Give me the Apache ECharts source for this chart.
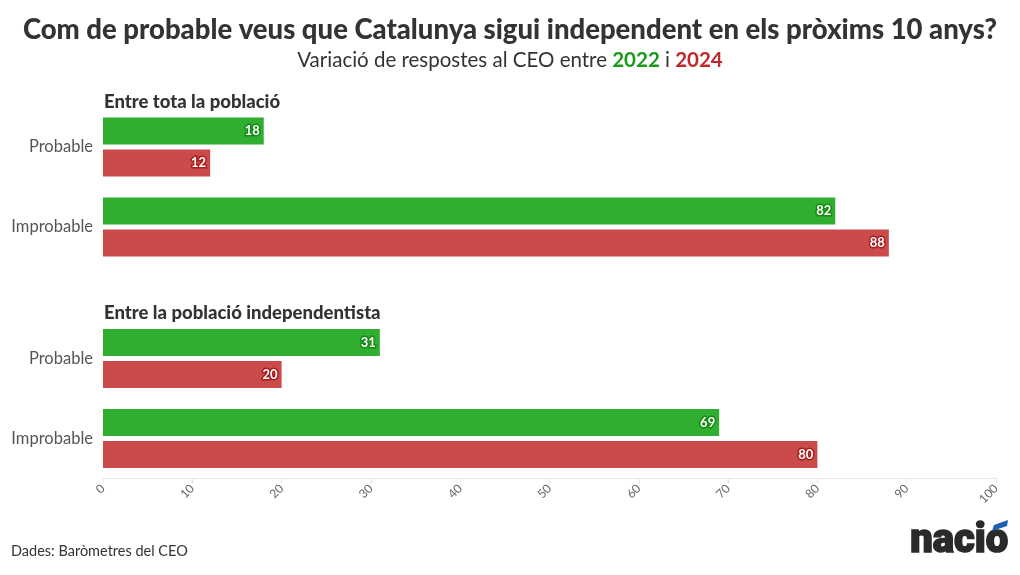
<!DOCTYPE html>
<html>
<head>
<meta charset="utf-8">
<script src="https://cdn.jsdelivr.net/npm/echarts@6/dist/echarts.min.js"></script>
<style>
  html, body { margin: 0; padding: 0; background: #fff; }
  #chart { width: 1020px; height: 575px; }
</style>
</head>
<body>
<div id="chart"></div>
<script>
// categories and values
const categories = ["Probable", "Improbable"];
const years = ["2022", "2024"];
const totalPop2022 = [18, 82];
const totalPop2024 = [12, 88];
const indepPop2022 = [31, 69];
const indepPop2024 = [20, 80];
const xTicks = [0, 10, 20, 30, 40, 50, 60, 70, 80, 90, 100];

const FONT = "Lato";
const GREEN = "#2fae2f";
const RED = "#cb4a4a";

let myChart = echarts.init(document.getElementById("chart"));

// label inside the bar end, white with dark halo
function barLabel(dark) {
  return {
    show: true,
    position: "insideRight",
    distance: 4,
    color: "#fff",
    fontFamily: FONT,
    fontWeight: "bold",
    fontSize: 13,
    textBorderColor: dark,
    textBorderWidth: 3,
  };
}

function barSeries(name, data, idx, color, dark) {
  return {
    name: name,
    type: "bar",
    xAxisIndex: idx,
    yAxisIndex: idx,
    data: data,
    barWidth: 27,
    barGap: "18%",
    itemStyle: { color: color },
    label: barLabel(dark),
    silent: true,
  };
}

const yAxisBase = {
  type: "category",
  data: categories,
  inverse: true,
  axisLine: { show: false },
  axisTick: { show: false },
  axisLabel: { color: "#555", fontFamily: FONT, fontSize: 16.5, margin: 10 },
};

const xAxisBase = {
  type: "value",
  min: 0,
  max: 100,
  interval: 10,
  splitLine: { show: false },
};

let option = {
  animation: false,
  textStyle: { fontFamily: FONT },
  title: [
    {
      text: "Com de probable veus que Catalunya sigui independent en els pròxims 10 anys?",
      left: "center",
      top: 11,
      textStyle: { color: "#333", fontSize: 27.5, fontWeight: 900, fontFamily: FONT },
    },
    {
      text: "Variació de respostes al CEO entre {g|" + years[0] + "} i {r|" + years[1] + "}",
      left: "center",
      top: 45,
      textStyle: {
        color: "#333", fontSize: 20.5, fontWeight: "normal", fontFamily: FONT,
        rich: {
          g: { color: "#1a9a1a", fontWeight: "bold", fontSize: 20.5, fontFamily: FONT },
          r: { color: "#c0282b", fontWeight: "bold", fontSize: 20.5, fontFamily: FONT },
        },
      },
    },
    {
      text: "Entre tota la població",
      left: 99,
      top: 88,
      textStyle: { color: "#333", fontSize: 18.5, fontWeight: 900, fontFamily: FONT },
    },
    {
      text: "Entre la població independentista",
      left: 99,
      top: 299,
      textStyle: { color: "#333", fontSize: 18.5, fontWeight: 900, fontFamily: FONT },
    },
    {
      text: "Dades: Baròmetres del CEO",
      left: 6,
      top: 539,
      textStyle: { color: "#333", fontSize: 14.5, fontWeight: "normal", fontFamily: FONT },
    },
  ],
  grid: [
    { left: 103, right: 24, top: 107, height: 160 },
    { left: 103, right: 24, top: 318.5, height: 160 },
  ],
  xAxis: [
    Object.assign({}, xAxisBase, {
      gridIndex: 0,
      show: false,
    }),
    Object.assign({}, xAxisBase, {
      gridIndex: 1,
      axisLine: { show: true, lineStyle: { color: "#e6e6e6" } },
      axisTick: { show: true, length: 5, lineStyle: { color: "#e6e6e6" } },
      axisLabel: {
        color: "#666",
        fontSize: 12,
        fontFamily: FONT,
        rotate: 45,
        margin: 8,
        formatter: (v) => (xTicks.indexOf(v) >= 0 ? String(v) : ""),
      },
    }),
  ],
  yAxis: [
    Object.assign({}, yAxisBase, { gridIndex: 0 }),
    Object.assign({}, yAxisBase, { gridIndex: 1 }),
  ],
  series: [
    barSeries(years[0], totalPop2022, 0, GREEN, "#158a15"),
    barSeries(years[1], totalPop2024, 0, RED, "#a81e1e"),
    barSeries(years[0], indepPop2022, 1, GREEN, "#158a15"),
    barSeries(years[1], indepPop2024, 1, RED, "#a81e1e"),
  ],
  graphic: [
    {
      type: "text",
      right: 11,
      top: 521,
      style: {
        text: "nacio",
        fill: "#2a2a2a",
        font: "900 40px Roboto",
        stroke: "#2a2a2a",
        lineWidth: 1.5,
      },
    },
    {
      // blue accent of the logo
      type: "polygon",
      shape: { points: [[994, 525], [1008, 520], [1007, 526], [992, 531]] },
      style: { fill: "#1f5fb5" },
    },
  ],
};

myChart.setOption(option);
window.addEventListener("resize", function () {
  myChart.resize();
});
</script>
</body>
</html>
